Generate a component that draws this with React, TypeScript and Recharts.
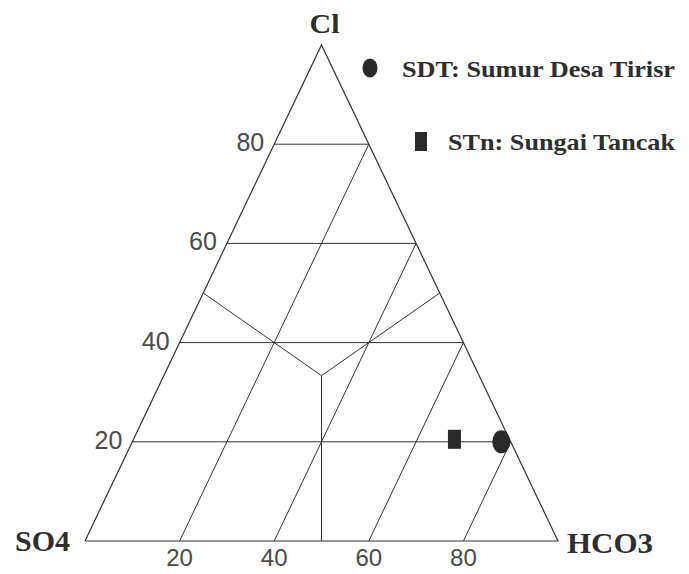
import React from 'react';
import { ScatterChart, Scatter, XAxis, YAxis } from 'recharts';

// Ternary diagram: Cl (top), SO4 (bottom-left), HCO3 (bottom-right), in %
const clLevels = [20, 40, 60, 80];
const hco3Levels = [20, 40, 60, 80];
const cornerNames = ['SO4', 'HCO3', 'Cl'];
const cornerCl = [0, 0, 100];
const cornerHco3 = [0, 100, 0];
const sampleNames = ['SDT: Sumur Desa Tirisr', 'STn: Sungai Tancak'];
const sampleCl = [20, 20];
const sampleHco3 = [78, 68];

const toXY = (cl: number, hco3: number) => ({ x: hco3 + cl / 2, y: cl });

const outline = [toXY(0, 0), toXY(0, 100), toXY(100, 0), toXY(0, 0)];
const clLines = clLevels.map((c) => [toXY(c, 0), toXY(c, 100 - c)]);
const hco3Lines = hco3Levels.map((h) => [toXY(0, h), toXY(100 - h, h)]);
const center = toXY(100 / 3, 100 / 3);
const divLines = [
  [toXY(50, 0), center],
  [toXY(50, 50), center],
  [toXY(0, 50), center],
];
const clTickData = clLevels.map((c) => ({ ...toXY(c, 0), label: String(c) }));
const cornerData = cornerNames.map((n, i) => ({ ...toXY(cornerCl[i], cornerHco3[i]), label: n }));
const sampleData = sampleNames.map((n, i) => ({ ...toXY(sampleCl[i], sampleHco3[i]), name: n, kind: i }));

const LINE = '#333';
const MARK = '#2a2a2a';
const SERIF = "'Liberation Serif', 'Times New Roman', serif";
const SANS = "'Liberation Sans', Arial, sans-serif";
const none = () => <g />;

const ClTick = (p: any) => (
  <text x={p.cx - 10} y={p.cy - 2} textAnchor="end" dominantBaseline="central"
    fontFamily={SANS} fontSize={25} fill="#4a4a4a">
    {p.payload.label}
  </text>
);

const CornerLabel = (p: any) => {
  const l = p.payload.label;
  if (l === 'Cl') {
    return (
      <text x={p.cx + 3} y={p.cy - 12} textAnchor="middle" fontFamily={SERIF} fontWeight="bold"
        fontSize={27} fill="#2e2e2e" textLength={30} lengthAdjust="spacingAndGlyphs">{l}</text>
    );
  }
  if (l === 'SO4') {
    return (
      <text x={p.cx - 70} y={p.cy + 10} textAnchor="start" fontFamily={SERIF} fontWeight="bold"
        fontSize={30} fill="#2e2e2e" textLength={55} lengthAdjust="spacingAndGlyphs">{l}</text>
    );
  }
  return (
    <text x={p.cx + 9} y={p.cy + 12} textAnchor="start" fontFamily={SERIF} fontWeight="bold"
      fontSize={30} fill="#2e2e2e" textLength={86} lengthAdjust="spacingAndGlyphs">{l}</text>
  );
};

const SampleMark = (p: any) => {
  if (p.payload.kind === 0) {
    return <ellipse cx={p.cx} cy={p.cy} rx={9} ry={11.5} fill={MARK} />;
  }
  return <rect x={p.cx - 6} y={p.cy - 12} width={13} height={19} fill={MARK} />;
};

export default function App() {
  return (
    <div style={{ position: 'absolute', left: 0, top: 0, width: 689, height: 574, background: '#fff' }}>
      <ScatterChart width={689} height={574} margin={{ top: 45, right: 131, bottom: 0, left: 85 }}>
        <XAxis type="number" dataKey="x" domain={[0, 100]} ticks={hco3Levels} axisLine={false}
          tickLine={false} height={33} tickMargin={2}
          tick={{ fontFamily: SANS, fontSize: 24, fill: '#4a4a4a' }} />
        <YAxis type="number" dataKey="y" domain={[0, 100]} hide />
        <Scatter data={outline} line={{ stroke: LINE, strokeWidth: 1.2 }} lineType="joint" shape={none} isAnimationActive={false} />
        {clLines.map((d, i) => (
          <Scatter key={'c' + i} data={d} line={{ stroke: LINE, strokeWidth: 1 }} lineType="joint" shape={none} isAnimationActive={false} />
        ))}
        {hco3Lines.map((d, i) => (
          <Scatter key={'h' + i} data={d} line={{ stroke: LINE, strokeWidth: 1 }} lineType="joint" shape={none} isAnimationActive={false} />
        ))}
        {divLines.map((d, i) => (
          <Scatter key={'d' + i} data={d} line={{ stroke: LINE, strokeWidth: 1 }} lineType="joint" shape={none} isAnimationActive={false} />
        ))}
        <Scatter data={clTickData} shape={ClTick} isAnimationActive={false} />
        <Scatter data={cornerData} shape={CornerLabel} isAnimationActive={false} />
        <Scatter data={sampleData} shape={SampleMark} isAnimationActive={false} />
      </ScatterChart>
      <svg width={689} height={574} style={{ position: 'absolute', left: 0, top: 0, pointerEvents: 'none' }}>
        <ellipse cx={370} cy={68} rx={7.5} ry={9.5} fill={MARK} />
        <text x={402} y={77} fontFamily={SERIF} fontWeight="bold" fontSize={23} fill="#2e2e2e"
          textLength={273} lengthAdjust="spacingAndGlyphs">{sampleNames[0]}</text>
        <rect x={415} y={132} width={12} height={19} fill={MARK} />
        <text x={448} y={150} fontFamily={SERIF} fontWeight="bold" fontSize={23} fill="#2e2e2e"
          textLength={227} lengthAdjust="spacingAndGlyphs">{sampleNames[1]}</text>
      </svg>
    </div>
  );
}
